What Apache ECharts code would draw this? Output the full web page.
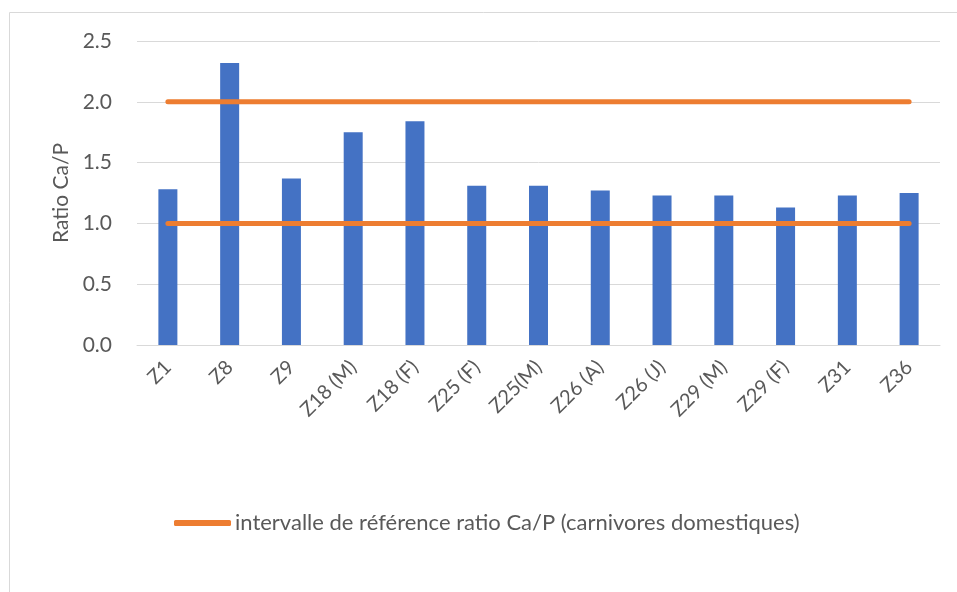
<!DOCTYPE html>
<html>
<head>
<meta charset="utf-8">
<script src="https://cdn.jsdelivr.net/npm/echarts@6/dist/echarts.min.js"></script>
<style>
  html, body { margin: 0; padding: 0; background: #fff; }
  #chart { width: 957px; height: 592px; }
</style>
</head>
<body>
<div id="chart"></div>
<script>
  // samples and their Ca/P ratio
  const categories = ['Z1', 'Z8', 'Z9', 'Z18 (M)', 'Z18 (F)', 'Z25 (F)', 'Z25(M)', 'Z26 (A)', 'Z26 (J)', 'Z29 (M)', 'Z29 (F)', 'Z31', 'Z36'];
  const ratioValues = [1.28, 2.32, 1.37, 1.75, 1.84, 1.31, 1.31, 1.27, 1.23, 1.23, 1.13, 1.23, 1.25];
  // reference interval (domestic carnivores)
  const refLow = [1, 1, 1, 1, 1, 1, 1, 1, 1, 1, 1, 1, 1];
  const refHigh = [2, 2, 2, 2, 2, 2, 2, 2, 2, 2, 2, 2, 2];
  const refName = 'intervalle de référence ratio Ca/P (carnivores domestiques)';

  const FONT = 'Lato';
  const TXT = '#595959';
  const chart = echarts.init(document.getElementById('chart'));

  chart.setOption({
    animation: false,
    textStyle: { fontFamily: FONT },
    graphic: [{
      type: 'rect',
      shape: { x: 9.5, y: 12.5, width: 1200, height: 1200 },
      style: { fill: 'none', stroke: '#d9d9d9', lineWidth: 1 },
      silent: true
    }],
    grid: { left: 137, right: 17, top: 41, bottom: 247 },
    legend: {
      data: [{ name: refName, icon: 'roundRect' }],
      left: 169,
      top: 507,
      itemWidth: 57,
      itemHeight: 6,
      itemGap: 4,
      textStyle: { color: TXT, fontSize: 22, fontFamily: FONT, padding: [0, 0, 0, -1] }
    },
    xAxis: {
      type: 'category',
      data: categories,
      axisLine: { lineStyle: { color: '#d9d9d9', width: 1 } },
      axisTick: { show: false },
      axisLabel: { rotate: 45, color: TXT, fontSize: 20, margin: 19, interval: 0 }
    },
    yAxis: {
      type: 'value',
      min: 0,
      max: 2.5,
      interval: 0.5,
      name: 'Ratio Ca/P',
      nameLocation: 'middle',
      nameGap: 65,
      nameTextStyle: { color: TXT, fontSize: 21, fontFamily: FONT },
      axisLine: { show: false },
      axisTick: { show: false },
      splitLine: { lineStyle: { color: '#d9d9d9', width: 1 } },
      axisLabel: { color: TXT, fontSize: 21, margin: 25, formatter: (v) => v.toFixed(1) }
    },
    series: [
      {
        name: 'Ratio Ca/P',
        type: 'bar',
        data: ratioValues,
        barWidth: 19,
        itemStyle: { color: '#4472C4' }
      },
      {
        name: refName,
        type: 'line',
        data: refHigh,
        symbol: 'none',
        lineStyle: { color: '#ED7D31', width: 5, cap: 'round' },
        itemStyle: { color: '#ED7D31' }
      },
      {
        name: refName,
        type: 'line',
        data: refLow,
        symbol: 'none',
        lineStyle: { color: '#ED7D31', width: 5, cap: 'round' },
        itemStyle: { color: '#ED7D31' }
      }
    ]
  });
</script>
</body>
</html>
